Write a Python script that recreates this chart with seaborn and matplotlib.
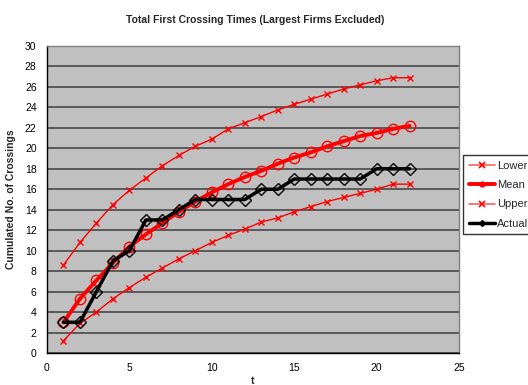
import matplotlib
matplotlib.use("Agg")
import matplotlib.pyplot as plt
import seaborn as sns
import pandas as pd
from matplotlib.lines import Line2D

t = list(range(1, 23))
lower = [1.2, 2.9, 4.0, 5.3, 6.4, 7.4, 8.3, 9.2, 10.0, 10.8, 11.5, 12.1, 12.8, 13.2, 13.8, 14.3, 14.8, 15.2, 15.6, 16.0, 16.5, 16.5]
mean = [3.0, 5.3, 7.1, 8.8, 10.4, 11.6, 12.7, 13.8, 14.8, 15.7, 16.5, 17.2, 17.8, 18.5, 19.1, 19.6, 20.2, 20.7, 21.2, 21.5, 21.9, 22.2]
upper = [8.6, 10.8, 12.7, 14.5, 15.9, 17.1, 18.3, 19.3, 20.2, 20.9, 21.9, 22.5, 23.1, 23.75, 24.3, 24.8, 25.3, 25.8, 26.2, 26.6, 26.9, 26.9]
actual = [3, 3, 6, 9, 10, 13, 13, 14, 15, 15, 15, 15, 16, 16, 17, 17, 17, 17, 17, 18, 18, 18]

series_names = ["Lower", "Mean", "Upper", "Actual"]
title = "Total First Crossing Times (Largest Firms Excluded)"

df = pd.DataFrame({"t": t, "Lower": lower, "Mean": mean, "Upper": upper, "Actual": actual})
long = df.melt(id_vars="t", var_name="series", value_name="value")

sns.set_style("white")
plt.rcParams['font.family'] = ['Liberation Sans', 'DejaVu Sans']

fig = plt.figure(figsize=(5.28, 3.85), dpi=100)
ax = fig.add_axes([47/528, 1 - 353/385, (459-47)/528, (353-46)/385])
ax.set_facecolor("#C0C0C0")

styles = {
    "Lower": dict(color="red", lw=1.0, marker="x", ms=5, mew=1.0, mfc="none", mec="red"),
    "Mean": dict(color="red", lw=2.8, marker="o", ms=7.5, mew=1.0, mfc="none", mec="red"),
    "Upper": dict(color="red", lw=1.0, marker="x", ms=5, mew=1.0, mfc="none", mec="red"),
    "Actual": dict(color="black", lw=2.5, marker="D", ms=6, mew=1.0, mfc="none", mec="black"),
}
order = ["Lower", "Upper", "Mean", "Actual"]
for name in order:
    sub = long[long["series"] == name]
    s = styles[name]
    sns.lineplot(data=sub, x="t", y="value", ax=ax, color=s["color"], linewidth=s["lw"],
                 marker=s["marker"], markersize=s["ms"], markeredgewidth=s["mew"],
                 markerfacecolor=s["mfc"], markeredgecolor=s["mec"], zorder=3,
                 legend=False)

ax.set_xlim(0, 25)
ax.set_ylim(0, 30)
ax.set_xticks(range(0, 26, 5))
ax.set_yticks(range(0, 31, 2))
ax.yaxis.grid(True, color="#5a5a5a", linewidth=1.4, zorder=0)
ax.xaxis.grid(False)
ax.set_axisbelow(True)
for sp in ["top", "right"]:
    ax.spines[sp].set_color("#808080")
    ax.spines[sp].set_linewidth(1.0)
for sp in ["left", "bottom"]:
    ax.spines[sp].set_color("black")
    ax.spines[sp].set_linewidth(1.0)
ax.tick_params(axis="both", which="both", direction="out", length=4, width=1, labelsize=7.5, colors="black")
ax.set_xlabel("t", fontsize=7.5, fontweight="bold", labelpad=2)
ax.set_ylabel("Cumulated No. of Crossings", fontsize=7.5, fontweight="bold", labelpad=6)
fig.text(255/528, 1 - 20/385, title, fontsize=7.5, fontweight="bold", ha="center", va="center")

handles = []
for name in series_names:
    if name in ("Lower", "Upper"):
        handles.append(Line2D([0], [0], color="#ff6060", lw=1.2, marker="x", ms=4, mew=1.2, mec="red"))
    elif name == "Mean":
        handles.append(Line2D([0], [0], color="red", lw=2.8, marker="o", ms=3.5, mfc="red", mec="red"))
    else:
        handles.append(Line2D([0], [0], color="black", lw=2.5, marker="D", ms=3, mfc="black", mec="black"))
leg = fig.legend(handles, series_names, loc="upper left", bbox_to_anchor=(463/528, 1 - 155/385),
                 fontsize=8, frameon=True, fancybox=False, edgecolor="black",
                 borderpad=0.5, labelspacing=0.85, handlelength=2.4, handletextpad=0.2,
                 borderaxespad=0)
leg._legend_box.sep = 0
leg.get_frame().set_linewidth(1.0)

fig.savefig("out.png", dpi=100)
